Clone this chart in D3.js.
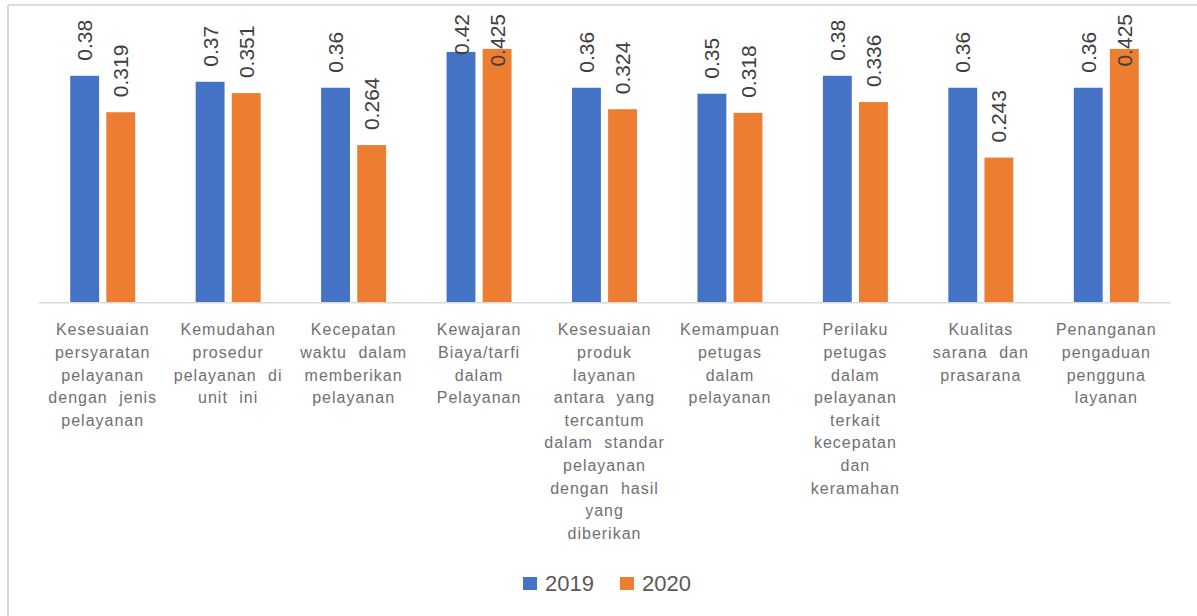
<!DOCTYPE html>
<html>
<head>
<meta charset="utf-8">
<script src="https://cdn.jsdelivr.net/npm/d3@7"></script>
<style>
  html, body { margin: 0; padding: 0; background: #fff; }
  svg { display: block; }
</style>
</head>
<body>
<svg id="chart" width="1197" height="616"></svg>
<script>
// Survey indicators (line breaks follow the wrapped axis labels)
const categories = [
  "Kesesuaian\npersyaratan\npelayanan\ndengan jenis\npelayanan",
  "Kemudahan\nprosedur\npelayanan di\nunit ini",
  "Kecepatan\nwaktu dalam\nmemberikan\npelayanan",
  "Kewajaran\nBiaya/tarfi\ndalam\nPelayanan",
  "Kesesuaian\nproduk\nlayanan\nantara yang\ntercantum\ndalam standar\npelayanan\ndengan hasil\nyang\ndiberikan",
  "Kemampuan\npetugas\ndalam\npelayanan",
  "Perilaku\npetugas\ndalam\npelayanan\nterkait\nkecepatan\ndan\nkeramahan",
  "Kualitas\nsarana dan\nprasarana",
  "Penanganan\npengaduan\npengguna\nlayanan"
];
const seriesNames = ["2019", "2020"];
const values2019 = [0.38, 0.37, 0.36, 0.42, 0.36, 0.35, 0.38, 0.36, 0.36];
const values2020 = [0.319, 0.351, 0.264, 0.425, 0.324, 0.318, 0.336, 0.243, 0.425];
const seriesColors = ["#4472C4", "#ED7D31"];

const seriesValues = [values2019, values2020];
const rows = categories.map((c, i) => ({
  cat: c,
  vals: seriesNames.map((s, j) => ({ key: s, value: seriesValues[j][i] }))
}));

const svg = d3.select("#chart");

// chart frame (top and left edges visible)
svg.append("line").attr("x1", 8).attr("y1", 5).attr("x2", 1197).attr("y2", 5)
  .attr("stroke", "#dadada").attr("stroke-width", 2);
svg.append("line").attr("x1", 8).attr("y1", 5).attr("x2", 8).attr("y2", 616)
  .attr("stroke", "#dadada").attr("stroke-width", 2);

const plot = { left: 40, right: 1169, base: 302.7, top: 34 };

const x0 = d3.scaleBand()
  .domain(categories)
  .range([plot.left, plot.right])
  .paddingInner(0.482)
  .paddingOuter(0.241);

const x1 = d3.scaleBand()
  .domain(seriesNames)
  .range([0, x0.bandwidth()])
  .paddingInner(0.2);

const y = d3.scaleLinear().domain([0, 0.45]).range([plot.base, plot.top]);
const color = d3.scaleOrdinal().domain(seriesNames).range(seriesColors);

// bars
const groups = svg.append("g").selectAll("g").data(rows).join("g")
  .attr("transform", d => `translate(${x0(d.cat)},0)`);

groups.selectAll("rect").data(d => d.vals).join("rect")
  .attr("x", d => x1(d.key))
  .attr("y", d => y(d.value))
  .attr("width", x1.bandwidth())
  .attr("height", d => y(0) - y(d.value))
  .attr("fill", d => color(d.key));

// horizontal category axis
const xAxis = svg.append("g")
  .attr("transform", `translate(0,${plot.base})`)
  .call(d3.axisBottom(x0).tickSize(0).tickFormat(""));
xAxis.select(".domain").attr("stroke", "#d9d9d9").attr("stroke-width", 1.5)
  .attr("d", `M${plot.left - 1},0H${plot.right + 1}`);

// wrapped category labels
const labelSize = 16, lineGap = 22.6, firstBaseline = 335.5;
xAxis.selectAll(".tick").each(function(d) {
  const t = d3.select(this).append("text")
    .attr("text-anchor", "middle")
    .attr("fill", "#707070")
    .style("font-family", "'Liberation Sans', Arial, sans-serif")
    .style("font-size", labelSize + "px")
    .style("letter-spacing", "1px")
    .style("word-spacing", "6px");
  d.split("\n").forEach((line, k) => {
    t.append("tspan").attr("x", 0)
      .attr("y", firstBaseline - plot.base + k * lineGap)
      .text(line);
  });
});

// rotated value labels, kept inside the chart top
const valueSize = 21, gapAbove = 15, topLimit = 14;
groups.selectAll("text.val").data(d => d.vals).join("text")
  .attr("class", "val")
  .attr("fill", "#404040")
  .style("font-family", "'Liberation Sans', Arial, sans-serif")
  .style("font-size", valueSize + "px")
  .text(d => String(d.value))
  .each(function(d) {
    const len = this.getComputedTextLength();
    let endY = y(d.value) - gapAbove;
    if (endY - len < topLimit) endY = topLimit + len;
    const cx = x1(d.key) + x1.bandwidth() / 2 + valueSize * 0.36;
    d3.select(this).attr("transform", `translate(${cx},${endY}) rotate(-90)`);
  });

// legend
const legendItems = [
  { key: "2019", x: 523 },
  { key: "2020", x: 620 }
];
const legend = svg.append("g");
legendItems.forEach(item => {
  legend.append("rect").attr("x", item.x).attr("y", 577)
    .attr("width", 14).attr("height", 13).attr("fill", color(item.key));
  legend.append("text").attr("x", item.x + 22).attr("y", 591)
    .attr("fill", "#595959")
    .style("font-family", "'Liberation Sans', Arial, sans-serif")
    .style("font-size", "22px")
    .text(item.key);
});
</script>
</body>
</html>
